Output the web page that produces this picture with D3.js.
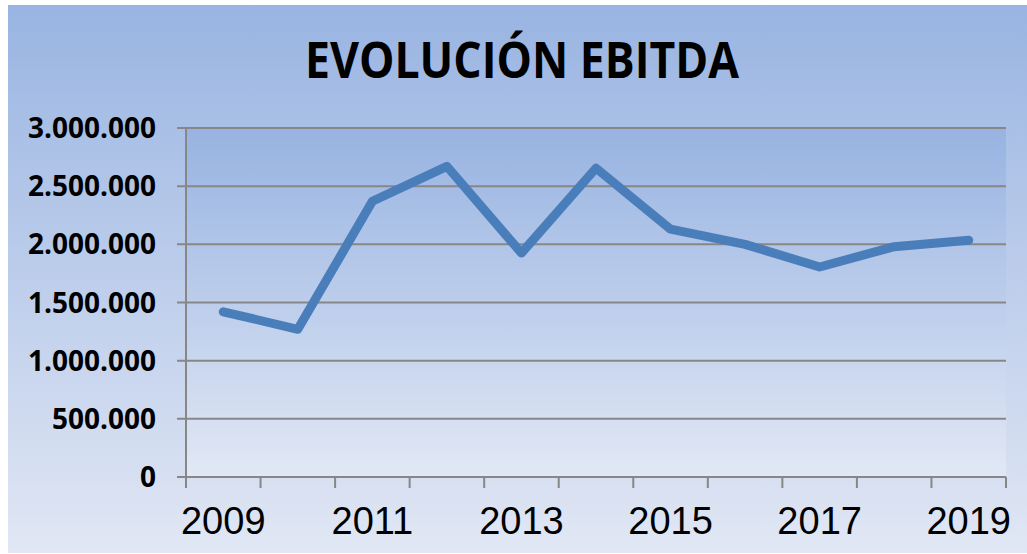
<!DOCTYPE html>
<html><head><meta charset="utf-8">
<script src="https://cdn.jsdelivr.net/npm/d3@7"></script>
<style>html,body{margin:0;padding:0;background:#fff;}svg{display:block;}</style>
</head><body>
<script>
const years = ["2009","2010","2011","2012","2013","2014","2015","2016","2017","2018","2019"];
const ebitda = [1420000, 1270000, 2370000, 2670000, 1925000, 2655000, 2130000, 2000000, 1805000, 1980000, 2035000];
const yTicks = [0, 500000, 1000000, 1500000, 2000000, 2500000, 3000000];
const xLabels = ["2009","2011","2013","2015","2017","2019"];
const title = "EVOLUCIÓN EBITDA";

const W = 1027, H = 554;
const m = {left:186, right:1006, top:128, bottom:477};
const svg = d3.select("body").append("svg").attr("width", W).attr("height", H);
const defs = svg.append("defs");
const g1 = defs.append("linearGradient").attr("id","bg").attr("x1",0).attr("y1",0).attr("x2",0).attr("y2",1);
g1.append("stop").attr("offset","0%").attr("stop-color","#99b4e2");
g1.append("stop").attr("offset","100%").attr("stop-color","#e1e7f4");
const g2 = defs.append("linearGradient").attr("id","pa").attr("x1",0).attr("y1",0).attr("x2",0).attr("y2",1);
g2.append("stop").attr("offset","0%").attr("stop-color","#97b3e1");
g2.append("stop").attr("offset","100%").attr("stop-color","#e2e8f5");

svg.append("rect").attr("x",8).attr("y",5).attr("width",W-8).attr("height",H-6).attr("fill","url(#bg)");
svg.append("rect").attr("x",m.left).attr("y",m.top).attr("width",m.right-m.left).attr("height",m.bottom-m.top).attr("fill","url(#pa)");

const x = d3.scaleBand().domain(years).range([m.left, m.right]).padding(0);
const y = d3.scaleLinear().domain([0, 3000000]).range([m.bottom, m.top]);
const fmt = v => d3.format(",")(v).replace(/,/g, ".");

// gridlines
svg.append("g").selectAll("line").data(yTicks).join("line")
  .attr("x1", 177).attr("x2", m.right)
  .attr("y1", d => y(d)).attr("y2", d => y(d))
  .attr("stroke", "#878787").attr("stroke-width", 2);

// y axis line
svg.append("line").attr("x1",m.left).attr("x2",m.left).attr("y1",m.top).attr("y2",488)
  .attr("stroke","#878787").attr("stroke-width",2);

// x ticks at band boundaries
const bounds = years.map(d => x(d)).concat([m.right]);
svg.append("g").selectAll("line").data(bounds).join("line")
  .attr("x1", d => d).attr("x2", d => d).attr("y1", m.bottom).attr("y2", 488)
  .attr("stroke", "#878787").attr("stroke-width", 2);

// y labels
svg.append("g").selectAll("text").data(yTicks).join("text")
  .attr("x", 156).attr("y", d => y(d)).attr("dy", "0.36em")
  .attr("text-anchor", "end")
  .attr("font-family", "'Open Sans', sans-serif").attr("font-weight", 700)
  .attr("font-size", 28).attr("fill", "#000")
  .text(d => fmt(d));

// x labels
svg.append("g").selectAll("text").data(xLabels).join("text")
  .attr("x", d => x(d) + x.bandwidth()/2).attr("y", 534)
  .attr("text-anchor", "middle")
  .attr("font-family", "'Liberation Sans', Arial, sans-serif")
  .attr("font-size", 38).attr("fill", "#000")
  .text(d => d);

// line
const line = d3.line().x((d,i) => x(years[i]) + x.bandwidth()/2).y(d => y(d));
svg.append("path").datum(ebitda).attr("d", line)
  .attr("fill","none").attr("stroke","#4a7ebb").attr("stroke-width",9)
  .attr("stroke-linejoin","round").attr("stroke-linecap","round");

// title
svg.append("text").attr("x", 522).attr("y", 78).attr("text-anchor","middle")
  .attr("font-family", "'Open Sans', sans-serif").attr("font-weight", 700)
  .attr("font-size", 50).attr("fill","#000")
  .attr("textLength", 434).attr("lengthAdjust","spacingAndGlyphs")
  .text(title);
</script>
</body></html>
